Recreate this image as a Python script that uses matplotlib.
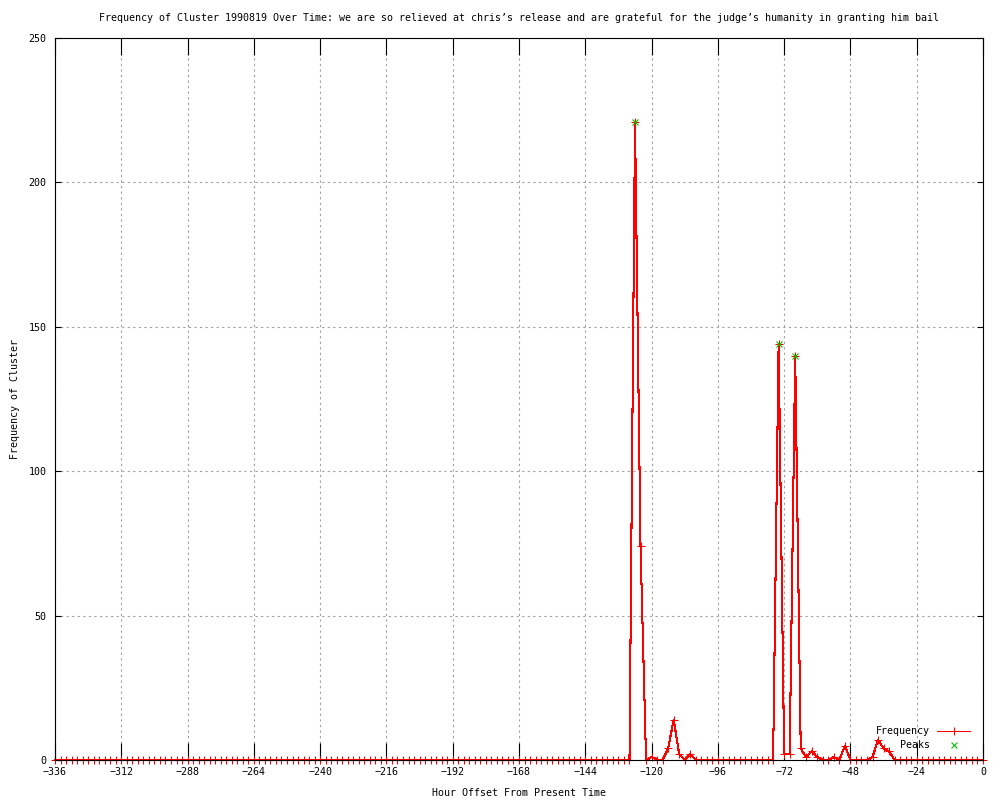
import matplotlib
matplotlib.use('Agg')
import matplotlib.pyplot as plt  # import the graphing functions

# hours before present, every 2 hours
hours = list(range(-336, 2, 2))

# cluster frequency for each hour in hours (169 values)
counts = [0, 0, 0, 0, 0, 0, 0, 0, 0, 0,      # -336 .. -318
          0, 0, 0, 0, 0, 0, 0, 0, 0, 0,      # -316 .. -298
          0, 0, 0, 0, 0, 0, 0, 0, 0, 0,      # -296 .. -278
          0, 0, 0, 0, 0, 0, 0, 0, 0, 0,      # -276 .. -258
          0, 0, 0, 0, 0, 0, 0, 0, 0, 0,      # -256 .. -238
          0, 0, 0, 0, 0, 0, 0, 0, 0, 0,      # -236 .. -218
          0, 0, 0, 0, 0, 0, 0, 0, 0, 0,      # -216 .. -198
          0, 0, 0, 0, 0, 0, 0, 0, 0, 0,      # -196 .. -178
          0, 0, 0, 0, 0, 0, 0, 0, 0, 0,      # -176 .. -158
          0, 0, 0, 0, 0, 0, 0, 0, 0, 0,      # -156 .. -138
          0, 0, 0, 0, 0, 221, 74, 0, 1, 0,   # -136 .. -118
          0, 4, 14, 2, 0, 2, 0, 0, 0, 0,     # -116 .. -98
          0, 0, 0, 0, 0, 0, 0, 0, 0, 0,      # -96 .. -78
          0, 144, 2, 2, 140, 4, 1, 3, 1, 0,  # -76 .. -58
          0, 1, 0, 5, 0, 0, 0, 0, 1, 7,      # -56 .. -38
          4, 3, 0, 0, 0, 0, 0, 0, 0, 0,      # -36 .. -18
          0, 0, 0, 0, 0, 0, 0, 0, 0]         # -16 .. 0

# detected peaks
peak_hours = [-126, -74, -68]
peak_counts = [221, 144, 140]

title = ("Frequency of Cluster 1990819 Over Time: we are so relieved at chris\u2019s "
         "release and are grateful for the judge\u2019s humanity in granting him bail")

plt.rcParams['font.family'] = ['DejaVu Sans Mono']
fs = 7.2

fig = plt.figure(figsize=(10, 8), dpi=100)
ax = fig.add_axes([0.055, 0.05, 0.928, 0.9025])

ax.plot(hours, counts, color='#ff0000', lw=0.75, marker='+', ms=6, mew=0.75,
        label='Frequency', antialiased=False, clip_on=False, zorder=2)
ax.plot(peak_hours, peak_counts, ls='none', color='#00c000', marker='x', ms=5,
        mew=0.8, label='Peaks', zorder=3)

ax.set_xlim(-336, 0)
ax.set_ylim(0, 250)
ax.set_xticks(range(-336, 1, 24))
ax.set_yticks(range(0, 251, 50))

ax.grid(True, color='#a0a0a0', ls=(0, (2, 3)), lw=0.8)
ax.tick_params(axis='x', direction='in', length=12, width=0.8, top=True,
               labelsize=fs, pad=5)
ax.tick_params(axis='y', direction='in', length=4, width=0.8, right=True,
               labelsize=fs, pad=6)
for s in ax.spines.values():
    s.set_linewidth(0.8)
    s.set_zorder(2.5)

ax.set_title(title, fontsize=fs, pad=12)
ax.set_xlabel('Hour Offset From Present Time', fontsize=fs, labelpad=8)
ax.set_ylabel('Frequency of Cluster', fontsize=fs, labelpad=6)

# legend in the lower right, text to the left of the sample
ax.legend(loc='lower right', bbox_to_anchor=(0.997, 0.0), frameon=False,
          markerfirst=False, fontsize=fs, handlelength=3.3,
          handletextpad=0.7, labelspacing=0.35, borderaxespad=0.6)

fig.savefig('out.png', dpi=100)
